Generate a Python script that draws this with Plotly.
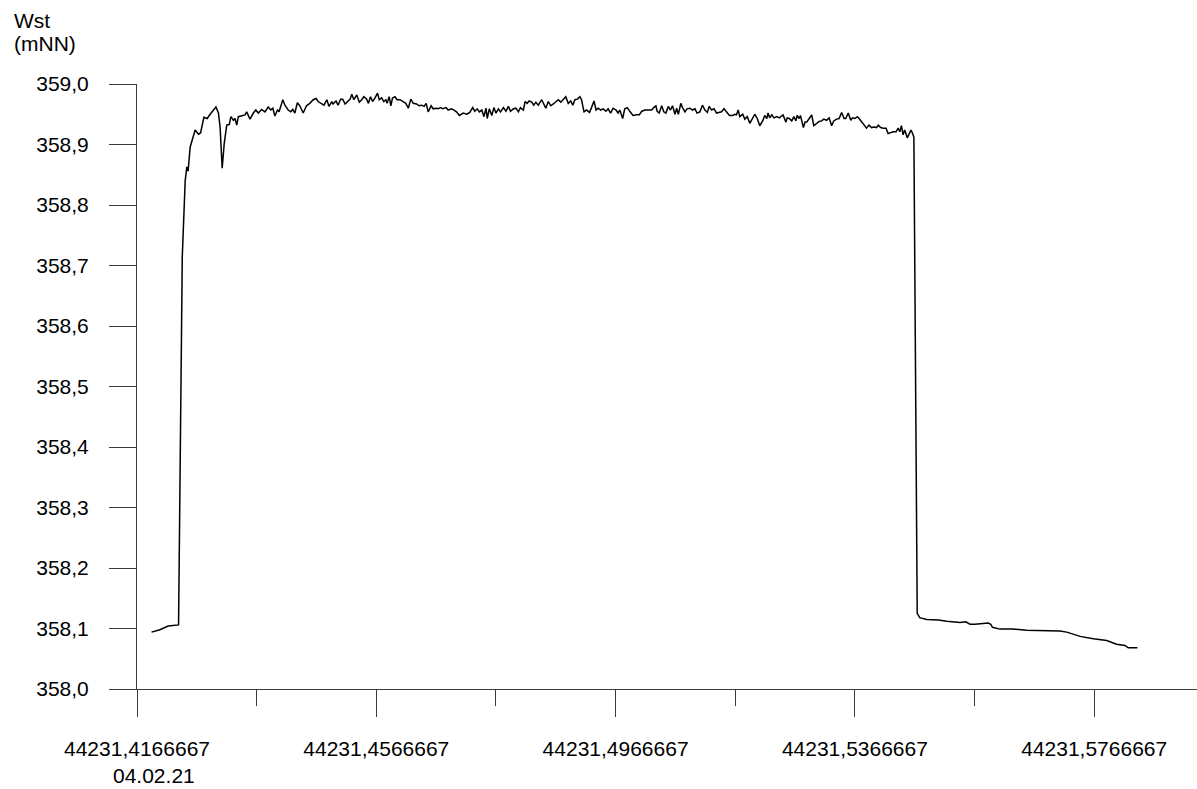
import plotly.graph_objects as go

# time in minutes after 10:00 on 04.02.21 (Excel serial 44231.4166667)
minutes = [
    3.5, 5.5, 7.5, 10.0, 10.9, 11.3, 11.6, 12.0, 12.3, 12.8, 13.2, 14.0, 14.8, 15.3,
    16.1, 16.9, 17.6, 18.4, 19.0, 19.6, 20.0, 20.5, 21.0, 21.6, 22.2, 22.6, 23.2, 23.6,
    24.0, 24.4, 25.2, 26.0, 26.4, 27.2, 28.0, 28.6, 29.2, 30.0, 30.8, 31.6, 32.2, 32.7,
    33.2, 33.8, 34.2, 35.1, 35.6, 36.4, 37.0, 37.5, 38.0, 38.6,
    39.2, 40.0, 40.8, 41.6, 42.4, 43.1, 43.6, 44.5, 45.0, 45.7, 46.2, 46.9, 47.2, 47.9,
    48.4, 49.0, 49.5, 50.1, 50.6, 51.3, 51.7, 52.2, 52.9, 53.5, 54.1, 54.6, 55.3, 55.7,
    56.2, 56.7, 57.3, 57.9, 58.3, 58.9, 59.4, 59.9, 60.2, 60.7, 61.1, 61.5, 62.1, 62.6,
    63.3, 64.1, 64.7, 65.3, 65.9, 66.5, 67.3, 67.9, 68.5, 69.1, 69.6, 70.1, 70.8, 71.3,
    72.0, 72.5, 73.1, 73.6, 74.4, 74.9, 75.7, 76.3, 76.9, 77.6,
    78.5, 79.4, 80.1, 80.8, 81.3, 81.9, 82.4, 83.0, 83.5, 84.0, 84.3, 84.8, 85.4, 85.9,
    86.4, 87.0, 87.5, 88.2, 88.8, 89.4, 89.9, 90.6, 91.2, 91.8, 92.3, 93.0, 93.4, 93.9,
    94.4, 95.0, 95.5, 96.0, 96.6, 97.4, 98.0, 98.4, 99.0, 99.6, 100.2, 100.8, 101.4, 102.0,
    102.6, 103.2, 103.8, 104.4, 104.9, 105.4, 106.0, 106.6, 107.0, 107.6, 108.2, 108.9,
    109.4, 110.0, 110.5, 111.0, 111.6, 112.2, 112.9, 113.4, 114.0, 114.6, 115.3, 115.8,
    116.2, 116.9, 117.4, 118.0, 118.7, 119.4, 120.3, 120.9, 121.5, 122.3, 123.1, 123.9,
    124.4, 124.9, 125.2, 125.7, 126.3, 126.8, 127.3, 127.9, 128.4, 128.9, 129.5, 129.9,
    130.3, 130.9, 131.3, 131.9, 132.4, 133.1, 133.7, 134.3, 134.8, 135.5, 136.1, 136.7,
    137.3, 137.7, 138.3, 138.9, 139.5, 140.1, 140.7, 141.3, 141.9, 142.6, 143.4, 143.9,
    144.3, 144.7, 145.1, 145.8, 146.3, 146.9, 147.5, 148.1, 148.7, 149.3, 149.9, 150.6,
    151.1, 151.6, 151.9, 152.3, 152.8, 153.3, 154.0, 154.6,
    155.5, 156.2, 156.5, 157.0, 157.6, 158.1, 158.6, 158.9, 159.4, 159.7, 160.4, 160.8,
    161.2, 161.8, 162.4, 162.9, 163.6, 164.2, 164.8, 165.3, 166.0, 166.6, 167.2, 167.7,
    168.4, 169.0, 169.6, 170.2, 170.6, 171.2, 171.8, 172.2, 172.8, 173.4, 173.8, 174.4,
    175.0, 175.6, 176.2, 176.8, 177.4, 178.0, 178.4, 179.0, 179.6, 180.3, 180.8, 181.4,
    182.0, 182.7, 183.2, 183.6, 184.0, 184.4, 184.8, 185.4, 185.9, 186.3, 186.7, 187.0,
    187.8, 188.4, 190.1, 192.9, 194.9, 198.1, 199.5, 200.5, 201.7, 203.3, 204.9, 205.5,
    205.9, 207.7, 210.9, 214.1, 217.7, 220.1, 222.1, 223.8, 227.0, 230.2, 233.4, 235.8,
    237.8, 238.6, 240.8,
]

level = [
    358.094, 358.098, 358.104, 358.106, 358.715, 358.800, 358.840, 358.863, 358.856, 358.896,
    358.907, 358.924, 358.917, 358.919, 358.945, 358.943, 358.950, 358.957, 358.962, 358.952,
    358.929, 358.861, 358.902, 358.932, 358.933, 358.946, 358.940, 358.943, 358.932, 358.946,
    358.947, 358.949, 358.954, 358.942, 358.952, 358.957, 358.952, 358.958, 358.954, 358.962,
    358.957, 358.960, 358.947, 358.957, 358.954, 358.974, 358.965, 358.957, 358.954, 358.958,
    358.952, 358.969,
    358.964, 358.952, 358.964, 358.968, 358.974, 358.976, 358.971, 358.968, 358.965, 358.974,
    358.963, 358.971, 358.967, 358.972, 358.965, 358.975, 358.975, 358.967, 358.971, 358.975,
    358.983, 358.974, 358.982, 358.970, 358.974, 358.979, 358.975, 358.968, 358.979, 358.971,
    358.977, 358.985, 358.974, 358.977, 358.971, 358.974, 358.968, 358.979, 358.964, 358.977,
    358.979, 358.974, 358.974, 358.971, 358.968, 358.960, 358.975, 358.968, 358.967, 358.964,
    358.965, 358.963, 358.968, 358.954, 358.964, 358.959, 358.960, 358.959, 358.961, 358.959,
    358.961, 358.957, 358.959, 358.957, 358.954, 358.948,
    358.952, 358.950, 358.953, 358.961, 358.955, 358.959, 358.954, 358.957, 358.946, 358.960,
    358.943, 358.959, 358.948, 358.961, 358.952, 358.959, 358.954, 358.961, 358.955, 358.963,
    358.955, 358.959, 358.960, 358.954, 358.961, 358.957, 358.971, 358.968, 358.972, 358.970,
    358.965, 358.970, 358.965, 358.974, 358.965, 358.960, 358.971, 358.964, 358.967, 358.971,
    358.974, 358.970, 358.974, 358.979, 358.968, 358.972, 358.965, 358.974, 358.975, 358.979,
    358.974, 358.954, 358.957, 358.953, 358.961, 358.972, 358.957, 358.960, 358.957, 358.959,
    358.955, 358.959, 358.952, 358.960, 358.957, 358.952,
    358.957, 358.943, 358.959, 358.961, 358.954, 358.948, 358.949, 358.949, 358.955, 358.957,
    358.957, 358.957, 358.961, 358.964, 358.955, 358.952, 358.964, 358.954, 358.952, 358.963,
    358.957, 358.964, 358.950, 358.960, 358.950, 358.968, 358.961, 358.954, 358.959, 358.960,
    358.957, 358.959, 358.952, 358.954, 358.965, 358.957, 358.953, 358.963, 358.957, 358.959,
    358.952, 358.953, 358.954, 358.959, 358.954, 358.948, 358.948, 358.950, 358.949, 358.957,
    358.946, 358.950, 358.942, 358.946, 358.935, 358.943, 358.950, 358.943, 358.931, 358.939,
    358.948, 358.943, 358.952, 358.944, 358.949, 358.944, 358.946, 358.944,
    358.949, 358.937, 358.944, 358.943, 358.939, 358.946, 358.939, 358.948, 358.943, 358.948,
    358.928, 358.937, 358.937, 358.943, 358.949, 358.931, 358.935, 358.938, 358.939, 358.942,
    358.940, 358.944, 358.931, 358.939, 358.942, 358.943, 358.953, 358.943, 358.943, 358.952,
    358.940, 358.944, 358.943, 358.946, 358.943, 358.938, 358.933, 358.927, 358.932, 358.928,
    358.929, 358.928, 358.932, 358.928, 358.927, 358.927, 358.918, 358.920, 358.921, 358.921,
    358.927, 358.921, 358.931, 358.916, 358.924, 358.911, 358.917, 358.924, 358.918, 358.912,
    358.125, 358.118, 358.115, 358.114, 358.112, 358.110, 358.111, 358.107, 358.107, 358.108,
    358.109, 358.107, 358.102, 358.099, 358.099, 358.097, 358.097, 358.097, 358.096, 358.094,
    358.087, 358.083, 358.080, 358.074, 358.072, 358.068, 358.068,
]

day_start = 44231.4166667
x_major_vals = [44231.4166667, 44231.4566667, 44231.4966667, 44231.5366667, 44231.5766667]
x_major_text = ["44231,4166667", "44231,4566667", "44231,4966667", "44231,5366667", "44231,5766667"]
x_end = 44231.59385
date_label = "04.02.21"
y_title = ["Wst", "(mNN)"]

x_days = [day_start + m / 1440.0 for m in minutes]

FONT = "Liberation Sans, Arial, sans-serif"
AXC = "#3a3a3a"

fig = go.Figure()
fig.add_trace(go.Scatter(
    x=x_days, y=level, mode="lines",
    line=dict(color="#000000", width=1.5),
    hoverinfo="skip", showlegend=False,
))

fig.update_layout(
    width=1197, height=789,
    margin=dict(l=137, r=0, t=84, b=100, pad=0),
    paper_bgcolor="white", plot_bgcolor="white",
    font=dict(family=FONT, size=21, color="#000000"),
    separators=",.",
    showlegend=False,
)

fig.update_xaxes(
    range=[day_start, x_end],
    tickmode="array", tickvals=x_major_vals, ticktext=x_major_text,
    ticks="outside", ticklen=27, tickwidth=1, tickcolor=AXC,
    showline=True, linecolor=AXC, linewidth=1,
    showgrid=False, zeroline=False,
    ticklabelstandoff=14,
    minor=dict(tickmode="linear", tick0=day_start, dtick=0.02,
               ticks="outside", ticklen=16, tickwidth=1, tickcolor=AXC, showgrid=False),
    tickfont=dict(family=FONT, size=21, color="#000000"),
)

fig.update_yaxes(
    range=[358.0, 359.0],
    tickmode="linear", tick0=358.0, dtick=0.1, tickformat=".1f",
    ticks="outside", ticklen=27, tickwidth=1, tickcolor=AXC,
    showline=True, linecolor=AXC, linewidth=1,
    showgrid=False, zeroline=False,
    ticklabelstandoff=16,
    tickfont=dict(family=FONT, size=21, color="#000000"),
)

fig.add_annotation(
    text=date_label, xref="paper", yref="paper",
    x=(153.5 - 137) / 1060, y=-(775.5 - 689) / 605,
    xanchor="center", yanchor="middle", showarrow=False,
    font=dict(family=FONT, size=21, color="#000000"),
)
fig.add_annotation(
    text=y_title[0], xref="paper", yref="paper",
    x=(12 - 137) / 1060, y=(689 - 20) / 605,
    xanchor="left", yanchor="middle", showarrow=False,
    font=dict(family=FONT, size=21, color="#000000"),
)
fig.add_annotation(
    text=y_title[1], xref="paper", yref="paper",
    x=(12 - 137) / 1060, y=(689 - 43.5) / 605,
    xanchor="left", yanchor="middle", showarrow=False,
    font=dict(family=FONT, size=21, color="#000000"),
)

fig.write_html("out.html")
